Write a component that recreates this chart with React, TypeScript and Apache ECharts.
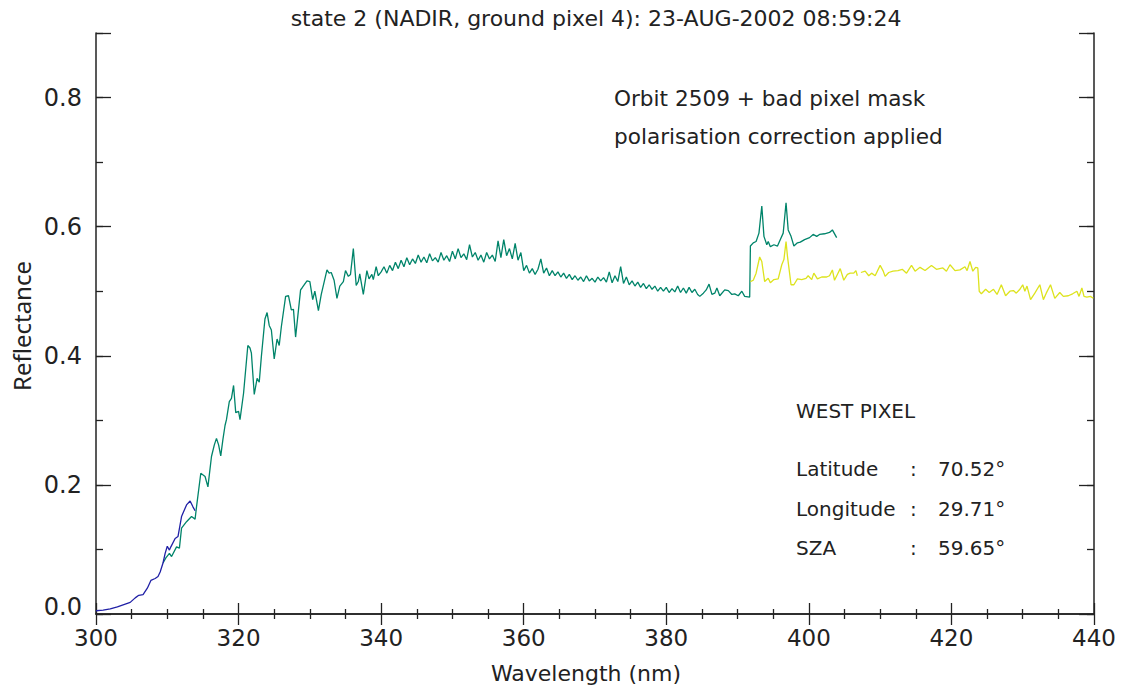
import React, { useEffect, useRef } from "react";
import * as echarts from "echarts";

// ---- data ----
const blueWl = [300.0, 301.0, 302.0, 303.0, 304.0, 304.8, 305.5, 306.0, 306.6, 307.2, 307.7, 308.3, 308.7, 309.0, 309.4, 309.7, 310.0, 310.3, 310.5, 311.1, 311.5, 312.0, 312.7, 313.2, 313.6, 313.9];
const blueR = [0.005, 0.006, 0.008, 0.011, 0.015, 0.018, 0.025, 0.029, 0.030, 0.040, 0.052, 0.055, 0.058, 0.065, 0.079, 0.094, 0.105, 0.099, 0.104, 0.117, 0.120, 0.151, 0.169, 0.175, 0.166, 0.160];

const greenWl = [
  309.4, 309.8, 310.3, 310.6, 311.3, 311.7, 312.0, 312.7, 313.4, 313.9, 314.1, 314.7, 315.3, 315.7, 316.2, 316.6, 316.9, 317.2, 317.5, 317.8,
  318.1, 318.3, 318.7, 319.0, 319.3, 319.6, 320.0, 320.2, 320.7, 321.3, 321.6, 321.8, 322.2, 322.6, 322.9, 323.2, 323.7, 324.0, 324.3, 324.6,
  325.0, 325.4, 325.7, 326.0, 326.6, 327.0, 327.4, 327.7, 328.0, 328.7, 328.9, 329.6, 330.0, 330.4, 330.7, 331.2, 331.6, 332.4, 332.7, 333.0,
  333.4, 333.8, 334.2, 334.7, 335.0, 335.4, 335.7, 336.1, 336.5, 336.8, 337.0, 337.5, 338.0, 338.3, 338.7, 338.9, 339.3, 339.6,
  340.0, 340.4, 340.8, 341.2, 341.6, 342.0, 342.4, 342.8, 343.2, 343.6, 344.0, 344.4, 344.8, 345.2, 345.6, 346.0, 346.4, 346.8, 347.2, 347.6,
  348.0, 348.4, 348.8, 349.2, 349.6, 350.0, 350.4, 350.8, 351.2, 351.6, 352.0, 352.4, 352.8, 353.2, 353.6, 354.0, 354.4, 354.8, 355.2, 355.6,
  356.0, 356.4, 356.8, 357.2, 357.6, 358.0, 358.4, 358.8, 359.2, 359.6, 360.0, 360.4, 360.8, 361.2, 361.6, 362.0, 362.4, 362.8, 363.2, 363.6,
  364.0, 364.4, 364.8, 365.2, 365.6, 366.0, 366.4, 366.8, 367.2, 367.6, 368.0, 368.4, 368.8, 369.2, 369.6, 370.0, 370.4, 370.8, 371.2, 371.6,
  372.0, 372.4, 372.8, 373.2, 373.6, 374.0, 374.4, 374.8, 375.2, 375.6, 376.0, 376.4, 376.8, 377.2, 377.6, 378.0, 378.4, 378.8, 379.2, 379.6,
  380.0, 380.4, 380.8, 381.2, 381.6, 382.0, 382.4, 382.8, 383.2, 383.6, 384.0, 384.4,
  384.7, 385.2, 385.6, 386.0, 386.4, 386.8, 387.1, 387.5, 388.2, 388.7, 389.2, 389.6, 390.1, 390.6, 391.0, 391.7,
  391.8, 392.2, 392.6, 393.0, 393.4, 393.7, 394.1, 394.3, 394.6, 395.1, 395.6, 396.0, 396.4, 396.8, 397.1, 397.5, 397.9, 398.4, 398.8, 399.4,
  400.1, 400.6, 401.1, 401.5, 402.2, 402.9, 403.3, 403.9,
];
const greenR = [
  0.079, 0.087, 0.094, 0.089, 0.104, 0.102, 0.133, 0.143, 0.151, 0.147, 0.166, 0.218, 0.213, 0.197, 0.244, 0.262, 0.272, 0.262, 0.245, 0.270,
  0.292, 0.301, 0.329, 0.334, 0.354, 0.312, 0.314, 0.301, 0.342, 0.416, 0.412, 0.404, 0.340, 0.365, 0.359, 0.399, 0.457, 0.467, 0.447, 0.440,
  0.395, 0.426, 0.416, 0.445, 0.492, 0.493, 0.471, 0.472, 0.429, 0.502, 0.505, 0.516, 0.515, 0.487, 0.500, 0.470, 0.495, 0.533, 0.528, 0.529,
  0.517, 0.489, 0.508, 0.515, 0.532, 0.523, 0.526, 0.566, 0.509, 0.515, 0.527, 0.495, 0.532, 0.519, 0.526, 0.518, 0.538, 0.524,
  0.530, 0.538, 0.528, 0.540, 0.532, 0.545, 0.535, 0.548, 0.538, 0.552, 0.541, 0.550, 0.543, 0.556, 0.545, 0.553, 0.544, 0.558, 0.547, 0.552,
  0.545, 0.560, 0.548, 0.555, 0.546, 0.562, 0.550, 0.566, 0.552, 0.558, 0.549, 0.572, 0.553, 0.560, 0.548, 0.556, 0.545, 0.560, 0.550, 0.556,
  0.546, 0.578, 0.552, 0.580, 0.555, 0.566, 0.550, 0.574, 0.548, 0.560, 0.532, 0.540, 0.528, 0.535, 0.526, 0.534, 0.550, 0.528, 0.536, 0.524,
  0.532, 0.524, 0.530, 0.522, 0.528, 0.520, 0.526, 0.518, 0.524, 0.517, 0.522, 0.515, 0.524, 0.516, 0.520, 0.514, 0.522, 0.516, 0.521, 0.514,
  0.530, 0.513, 0.524, 0.515, 0.538, 0.512, 0.522, 0.510, 0.516, 0.508, 0.514, 0.506, 0.512, 0.504, 0.510, 0.503, 0.508, 0.500, 0.506, 0.500,
  0.506, 0.498, 0.504, 0.499, 0.508, 0.498, 0.505, 0.497, 0.506, 0.498, 0.503, 0.495,
  0.492, 0.497, 0.502, 0.511, 0.495, 0.497, 0.505, 0.493, 0.502, 0.501, 0.495, 0.496, 0.493, 0.500, 0.492, 0.491,
  0.570, 0.575, 0.577, 0.590, 0.632, 0.585, 0.572, 0.577, 0.569, 0.572, 0.570, 0.580, 0.590, 0.637, 0.595, 0.585, 0.570, 0.575, 0.576, 0.580,
  0.583, 0.588, 0.585, 0.588, 0.589, 0.591, 0.595, 0.583,
];

const yellowWl = [
  391.8, 392.2, 392.6, 393.1, 393.4, 393.8, 394.3, 394.6, 395.1, 395.7, 396.2, 396.5, 396.8, 397.0, 397.5, 397.9, 398.4, 399.0, 399.6, 399.9,
  400.4, 400.7, 401.2, 401.8, 402.5, 402.9, 403.3, 403.6, 404.0, 404.4, 404.9, 405.4, 405.8, 406.3, 406.6, 406.8, 407.05, 407.3, 407.9, 408.4,
  408.8, 409.3, 410.0, 410.4, 410.7, 411.2, 411.8, 412.5, 413.1, 413.7, 414.4, 414.9, 415.6, 416.3, 417.2, 417.9, 418.8, 419.3, 419.8, 420.5,
  421.2, 421.9, 422.2, 422.6, 423.0, 423.4, 423.7, 423.9, 424.2, 424.8, 425.3, 425.9, 426.4, 427.0, 427.6, 428.2, 428.7, 429.1, 429.6, 430.0,
  430.3, 430.6, 431.1, 431.7, 432.4, 432.9, 433.3, 433.9, 434.5, 435.2, 435.7, 436.4, 437.0, 437.6, 437.9, 438.3, 438.6, 439.0, 439.5, 439.9,
];
const yellowR = [
  0.515, 0.517, 0.528, 0.553, 0.546, 0.515, 0.520, 0.513, 0.518, 0.519, 0.541, 0.549, 0.577, 0.554, 0.510, 0.510, 0.519, 0.518, 0.520, 0.524,
  0.518, 0.528, 0.519, 0.522, 0.522, 0.524, 0.533, 0.517, 0.526, 0.535, 0.517, 0.526, 0.528, 0.528, 0.532, 0.524, null, 0.529, 0.531, 0.524,
  0.528, 0.524, 0.540, 0.532, 0.523, 0.529, 0.531, 0.532, 0.534, 0.528, 0.540, 0.531, 0.537, 0.532, 0.540, 0.534, 0.536, 0.531, 0.541, 0.532,
  0.533, 0.538, 0.532, 0.546, 0.531, 0.537, 0.536, 0.500, 0.496, 0.503, 0.498, 0.503, 0.495, 0.510, 0.493, 0.500, 0.501, 0.497, 0.503, 0.510,
  0.500, 0.508, 0.487, 0.497, 0.510, 0.487, 0.497, 0.510, 0.489, 0.498, 0.492, 0.493, 0.496, 0.500, 0.492, 0.505, 0.492, 0.491, 0.492, 0.489,
];

const xTicks = { min: 300, max: 440, interval: 20 };
const yTicks = { min: 0, max: 0.9, major: 0.2, minor: 0.1 };

const titleText = "state 2 (NADIR, ground pixel 4): 23-AUG-2002 08:59:24";
const noteLines = ["Orbit 2509 + bad pixel mask", "polarisation correction applied"];
const pixelTitle = "WEST PIXEL";
const infoLabels = ["Latitude", "Longitude", "SZA"];
const infoValues = ["70.52°", "29.71°", "59.65°"];

const pairs = (xs: number[], ys: (number | null)[]) => xs.map((x, i) => [x, ys[i]]);

export default function App() {
  const ref = useRef<HTMLDivElement>(null);

  useEffect(() => {
    const chart = echarts.init(ref.current!, null, { renderer: "svg" });
    const FONT = "DejaVu Sans";
    const INK = "#222";
    const axisLine = { show: true, lineStyle: { color: INK, width: 1.5 } };

    const textEl = (text: string, x: number, y: number, size: number, align = "left") => ({
      type: "text",
      x,
      y,
      silent: true,
      style: { text, fontFamily: FONT, fontSize: size, fill: INK, align, verticalAlign: "middle" },
    });

    const infoY = [469, 509, 548];
    const graphics: any[] = [
      textEl(titleText, 596, 18, 22, "center"),
      textEl(noteLines[0], 614, 98, 21.6),
      textEl(noteLines[1], 614, 136, 21.6),
      textEl(pixelTitle, 796, 411, 20),
      textEl("Wavelength (nm)", 586, 673, 22, "center"),
      {
        type: "text",
        x: 21,
        y: 326,
        rotation: Math.PI / 2,
        silent: true,
        style: { text: "Reflectance", fontFamily: "Noto Sans", fontSize: 24, fill: INK, align: "center", verticalAlign: "middle" },
      },
    ];
    infoLabels.forEach((l, i) => {
      graphics.push(textEl(l, 796, infoY[i], 20));
      graphics.push(textEl(":", 910, infoY[i], 20));
      graphics.push(textEl(infoValues[i], 938, infoY[i], 20));
    });

    chart.setOption({
      animation: false,
      backgroundColor: "#fff",
      grid: { left: 96, right: 28, top: 33, bottom: 73, containLabel: false },
      xAxis: [
        {
          type: "value",
          position: "bottom",
          min: xTicks.min,
          max: xTicks.max,
          interval: xTicks.interval,
          axisLine,
          axisTick: { show: true, inside: true, length: 11, lineStyle: { color: INK, width: 1.3 } },
          minorTick: { show: true, splitNumber: 4, length: 5, lineStyle: { color: INK, width: 1.3 } },
          splitLine: { show: false },
          minorSplitLine: { show: false },
          axisLabel: { fontFamily: FONT, fontSize: 23, color: INK, margin: 12 },
        },
        {
          type: "value",
          position: "top",
          min: xTicks.min,
          max: xTicks.max,
          interval: xTicks.interval,
          axisLine,
          axisTick: { show: true, inside: true, length: 11, lineStyle: { color: INK, width: 1.3 } },
          minorTick: { show: true, splitNumber: 4, length: 5, lineStyle: { color: INK, width: 1.3 } },
          splitLine: { show: false },
          axisLabel: { show: false },
        },
      ],
      yAxis: [
        {
          type: "value",
          position: "left",
          min: yTicks.min,
          max: yTicks.max,
          interval: yTicks.major,
          axisLine,
          axisTick: { show: true, inside: true, length: 15, lineStyle: { color: INK, width: 1.3 } },
          splitLine: { show: false },
          axisLabel: {
            fontFamily: FONT,
            fontSize: 24,
            color: INK,
            margin: 14,
            formatter: (v: number) => (v > 0.85 ? "" : v === 0 ? "{z|0.0}" : v.toFixed(1)),
            rich: { z: { fontFamily: FONT, fontSize: 24, color: INK, padding: [0, 0, 14, 0] } },
          },
        },
        {
          type: "value",
          position: "left",
          min: yTicks.min,
          max: yTicks.max,
          interval: yTicks.minor,
          axisLine: { show: false },
          axisTick: { show: true, inside: true, length: 7, lineStyle: { color: INK, width: 1.3 } },
          splitLine: { show: false },
          axisLabel: { show: false },
        },
        {
          type: "value",
          position: "right",
          min: yTicks.min,
          max: yTicks.max,
          interval: yTicks.major,
          axisLine,
          axisTick: { show: true, inside: true, length: 15, lineStyle: { color: INK, width: 1.3 } },
          splitLine: { show: false },
          axisLabel: { show: false },
        },
        {
          type: "value",
          position: "right",
          min: yTicks.min,
          max: yTicks.max,
          interval: yTicks.minor,
          axisLine: { show: false },
          axisTick: { show: true, inside: true, length: 7, lineStyle: { color: INK, width: 1.3 } },
          splitLine: { show: false },
          axisLabel: { show: false },
        },
      ],
      series: [
        {
          type: "line",
          name: "green",
          data: pairs(greenWl, greenR),
          showSymbol: false,
          lineStyle: { color: "#00846a", width: 1.3 },
          z: 2,
        },
        {
          type: "line",
          name: "blue",
          data: pairs(blueWl, blueR),
          showSymbol: false,
          lineStyle: { color: "#2020a6", width: 1.3 },
          z: 3,
        },
        {
          type: "line",
          name: "yellow",
          data: pairs(yellowWl, yellowR),
          showSymbol: false,
          connectNulls: false,
          lineStyle: { color: "#dde31e", width: 1.3 },
          z: 3,
        },
      ],
      graphic: graphics,
    });

    return () => chart.dispose();
  }, []);

  return (
    <div
      ref={ref}
      style={{ position: "absolute", left: 0, top: 0, width: 1122, height: 687, background: "#fff" }}
    />
  );
}
